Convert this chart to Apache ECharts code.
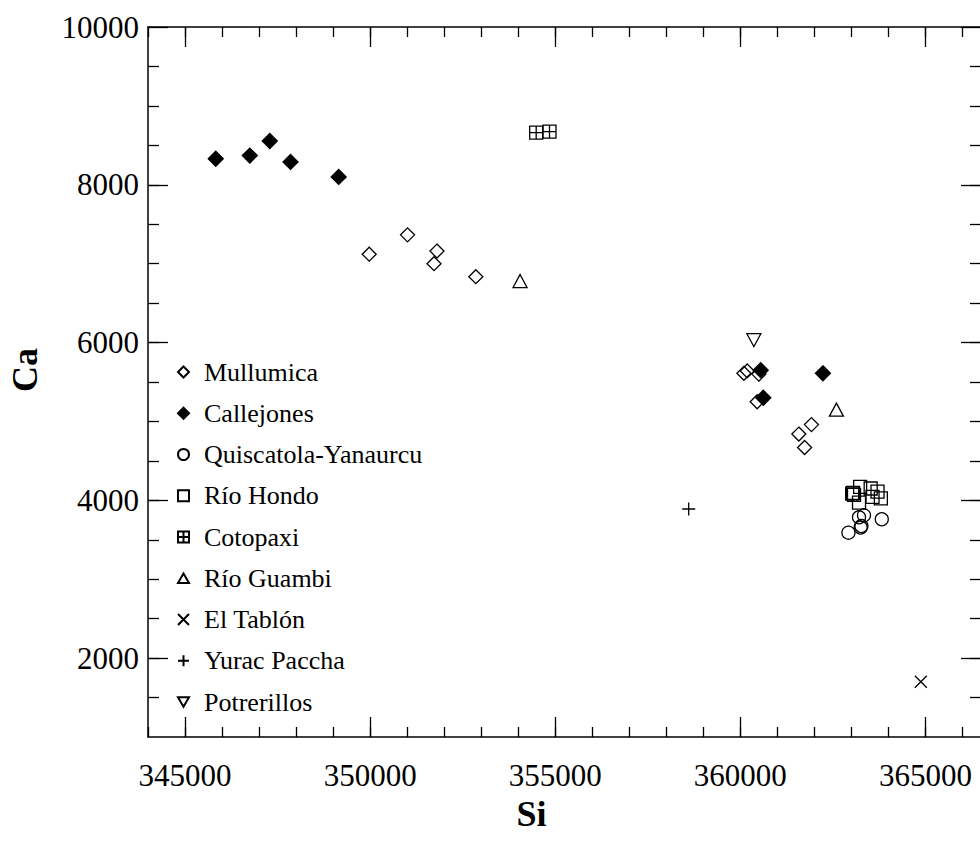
<!DOCTYPE html>
<html><head><meta charset="utf-8">
<script src="https://cdn.jsdelivr.net/npm/echarts@6/dist/echarts.min.js"></script>
<style>html,body{margin:0;padding:0;background:#fff}#c{width:980px;height:847px}</style>
</head><body><div id="c"></div>
<script>
// ---- data ----
const xMin = 344000, xMax = 366500;
const yMin = 1000, yMax = 10000;
const xMajorTicks = [345000, 350000, 355000, 360000, 365000];
const xMinorTicks = [344000, 345000, 346000, 347000, 348000, 349000, 350000, 351000, 352000, 353000, 354000, 355000, 356000, 357000, 358000, 359000, 360000, 361000, 362000, 363000, 364000, 365000, 366000];
const yMajorTicks = [2000, 4000, 6000, 8000, 10000];
const yMinorTicks = [1500, 2000, 2500, 3000, 3500, 4000, 4500, 5000, 5500, 6000, 6500, 7000, 7500, 8000, 8500, 9000, 9500];

const seriesNames = ['Mullumica', 'Callejones', 'Quiscatola-Yanaurcu', 'Río Hondo', 'Cotopaxi', 'Río Guambi', 'El Tablón', 'Yurac Paccha', 'Potrerillos'];

const mullumica = [[349975, 7120], [351010, 7365], [351805, 7160], [351725, 7000], [352855, 6835],
  [360095, 5610], [360185, 5640], [360500, 5600], [360455, 5250], [361920, 4960], [361580, 4840], [361735, 4670]];
const callejones = [[345830, 8330], [346750, 8370], [347290, 8555], [347850, 8290], [349150, 8100],
  [360550, 5650], [362230, 5610], [360620, 5300]];
const quiscatola = [[363205, 3785], [363340, 3810], [363250, 3655], [363270, 3675], [362920, 3590], [363820, 3760]];
const rioHondo = [[363045, 4095], [363070, 4070], [363020, 4085], [363235, 4170], [363520, 4150], [363705, 4110],
  [363795, 4025], [363205, 3970], [363570, 4045]];
const cotopaxi = [[354485, 8660], [354845, 8675]];
const rioGuambi = [[354050, 6780], [362595, 5150]];
const elTablon = [[364875, 1700]];
const yuracPaccha = [[358605, 3890]];
const potrerillos = [[360365, 6030]];

// ---- chart ----
const FONT = '"Liberation Serif","Times New Roman",Times,serif';
const BLACK = '#000';
const CLEAR = 'rgba(255,255,255,0)';

function xAxisDef(position, ticks, len, withLine, withLabel) {
  const a = {
    type: 'value', position: position, min: xMin, max: xMax,
    axisLine: { show: withLine, onZero: false, lineStyle: { color: BLACK, width: 1.5 } },
    axisTick: { show: true, inside: true, length: len, customValues: ticks, lineStyle: { color: BLACK, width: 1.3 } },
    axisLabel: { show: withLabel, customValues: ticks, formatter: v => String(v), fontFamily: FONT, fontSize: 31, lineHeight: 26, color: BLACK, margin: 25 },
    splitLine: { show: false }, minorTick: { show: false }
  };
  if (withLabel) {
    a.name = 'Si'; a.nameLocation = 'middle'; a.nameGap = 62; a.nameMoveOverlap = false;
    a.nameTextStyle = { fontFamily: FONT, fontSize: 36, lineHeight: 30, fontWeight: 'bold', color: BLACK, padding: [0, 66, 0, 0] };
  }
  return a;
}
function yAxisDef(position, ticks, len, withLine, withLabel) {
  const a = {
    type: 'value', position: position, min: yMin, max: yMax,
    axisLine: { show: withLine, onZero: false, lineStyle: { color: BLACK, width: 1.5 } },
    axisTick: { show: true, inside: true, length: len, customValues: ticks, lineStyle: { color: BLACK, width: 1.3 } },
    axisLabel: { show: withLabel, customValues: ticks, formatter: v => String(v), fontFamily: FONT, fontSize: 31, color: BLACK, margin: 9 },
    splitLine: { show: false }, minorTick: { show: false }
  };
  if (withLabel) {
    a.name = 'Ca'; a.nameLocation = 'middle'; a.nameGap = 105; a.nameRotate = 90; a.nameMoveOverlap = false;
    a.nameTextStyle = { fontFamily: FONT, fontSize: 36, fontWeight: 'bold', color: BLACK, padding: [0, 0, 0, 24] };
  }
  return a;
}

const SYM = {
  'Mullumica': { symbol: 'diamond', size: 14, fill: CLEAR },
  'Callejones': { symbol: 'diamond', size: 15, fill: BLACK },
  'Quiscatola-Yanaurcu': { symbol: 'circle', size: 13, fill: CLEAR },
  'Río Hondo': { symbol: 'rect', size: 13, fill: CLEAR },
  'Cotopaxi': { symbol: 'path://M0,0L10,0L10,10L0,10ZM5,0L5,10M0,5L10,5', size: 13, fill: CLEAR },
  'Río Guambi': { symbol: 'path://M5,0L10,8.66L0,8.66Z', size: [14, 13], fill: CLEAR },
  'El Tablón': { symbol: 'path://M0,0L10,10M10,0L0,10', size: 12, fill: CLEAR },
  'Yurac Paccha': { symbol: 'path://M5,0L5,10M0,5L10,5', size: 13, fill: CLEAR },
  'Potrerillos': { symbol: 'path://M0,0L10,0L5,8.66Z', size: [14, 13], fill: CLEAR }
};
const dataByName = {
  'Mullumica': mullumica, 'Callejones': callejones, 'Quiscatola-Yanaurcu': quiscatola, 'Río Hondo': rioHondo,
  'Cotopaxi': cotopaxi, 'Río Guambi': rioGuambi, 'El Tablón': elTablon, 'Yurac Paccha': yuracPaccha, 'Potrerillos': potrerillos
};

const series = seriesNames.map(n => ({
  name: n, type: 'scatter', xAxisIndex: 0, yAxisIndex: 0,
  symbol: SYM[n].symbol, symbolSize: SYM[n].size,
  itemStyle: { color: SYM[n].fill, borderColor: BLACK, borderWidth: 1.3, opacity: 1 },
  emphasis: { disabled: true },
  data: dataByName[n]
}));

const chart = echarts.init(document.getElementById('c'), null, { renderer: 'svg' });
chart.setOption({
  animation: false,
  backgroundColor: '#fff',
  grid: { left: 148, top: 27, right: -1, bottom: 110, containLabel: false, outerBoundsMode: 'none' },
  xAxis: [
    xAxisDef('bottom', xMajorTicks, 20, true, true),
    xAxisDef('bottom', xMinorTicks, 10, false, false),
    xAxisDef('top', xMajorTicks, 20, true, false),
    xAxisDef('top', xMinorTicks, 10, false, false)
  ],
  yAxis: [
    yAxisDef('left', yMajorTicks, 20, true, true),
    yAxisDef('left', yMinorTicks, 11, false, false),
    yAxisDef('right', yMajorTicks, 20, true, false),
    yAxisDef('right', yMinorTicks, 11, false, false)
  ],
  legend: {
    show: true, orient: 'vertical', left: 177, top: 357, padding: 0,
    itemWidth: 11, itemHeight: 11, itemGap: 11.25,
    data: seriesNames,
    selectedMode: false,
    textStyle: { fontFamily: FONT, fontSize: 26, color: BLACK, lineHeight: 30, padding: [0, 0, 0, 10] }
  },
  series: series
});
</script>
</body></html>
